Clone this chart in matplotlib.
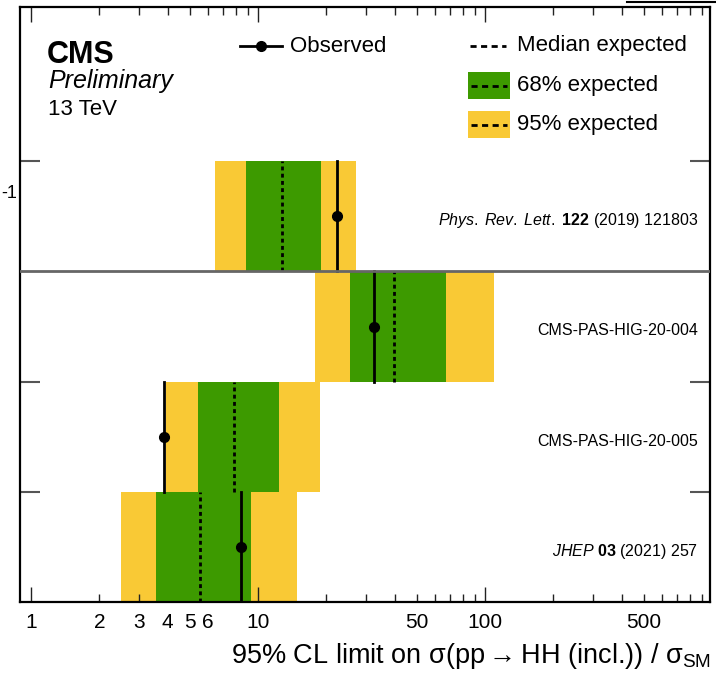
"""CMS HH combination: 95% CL upper limits on sigma(HH)/sigma_SM per analysis."""
import matplotlib
matplotlib.use('Agg')
import matplotlib.pyplot as plt
import matplotlib.patches as mpatches
from matplotlib.lines import Line2D
from matplotlib.ticker import FixedLocator, NullLocator

# ── data (top row first) ──
analyses = [r"$\mathit{Phys.\;Rev.\;Lett.}$ $\mathbf{122}$ (2019) 121803",
            "CMS-PAS-HIG-20-004",
            "CMS-PAS-HIG-20-005",
            r"$\mathit{JHEP}$ $\mathbf{03}$ (2021) 257"]
observed = [22.3, 32.4, 3.85, 8.4]
expected = [12.8, 39.7, 7.85, 5.55]
exp68_lo = [8.85, 25.4, 5.45, 3.55]
exp68_hi = [18.9, 67.3, 12.4, 9.3]
exp95_lo = [6.5, 17.8, 3.95, 2.5]
exp95_hi = [27.0, 110.0, 18.8, 14.9]

major_ticks = [1, 10, 100]
minor_ticks = [2, 3, 4, 5, 6, 7, 8, 9, 20, 30, 40, 50, 60, 70, 80, 90,
               200, 300, 400, 500, 600, 700, 800, 900]
minor_labels = {2: "2", 3: "3", 4: "4", 5: "5", 6: "6", 50: "50", 500: "500"}

C_YEL = "#F9C935"
C_GRN = "#3D9A00"

plt.rcParams.update({
    "font.family": ["Liberation Sans", "DejaVu Sans"],
    "mathtext.fontset": "custom",
    "mathtext.rm": "Liberation Sans",
    "mathtext.it": "Liberation Sans:italic",
    "mathtext.bf": "Liberation Sans:bold",
})

W, H = 716, 680
fig = plt.figure(figsize=(W / 100, H / 100), dpi=100)


def fx(px):
    return px / W


def fy(py):
    return 1 - py / H


ax = fig.add_axes([fx(20), fy(602), fx(710) - fx(20), fy(7) - fy(602)])
ax.set_xscale("log")
ax.set_xlim(0.895, 980)
ax.set_ylim(0, 5.4)

n = len(analyses)
for i, name in enumerate(analyses):
    y0 = n - 1 - i
    ax.barh(y0 + 0.5, exp95_hi[i] - exp95_lo[i], left=exp95_lo[i], height=1,
            color=C_YEL, edgecolor="none", zorder=1)
    ax.barh(y0 + 0.5, exp68_hi[i] - exp68_lo[i], left=exp68_lo[i], height=1,
            color=C_GRN, edgecolor="none", zorder=2)
    ax.plot([expected[i]] * 2, [y0, y0 + 1], color="black", lw=2,
            linestyle=(0, (1.4, 1.2)), zorder=3)
    ax.plot([observed[i]] * 2, [y0, y0 + 1], color="black", lw=2, zorder=4)
    ax.plot(observed[i], y0 + 0.5, "o", color="black", ms=7, zorder=5)
    ax.text(0.983, y0 + 0.46, name, transform=ax.get_yaxis_transform(),
            ha="right", va="center", fontsize=11.5)

# separator between published and new results
ax.axhline(3, color="#666666", lw=2, zorder=6)

# axes styling
for s in ax.spines.values():
    s.set_linewidth(1.6)
ax.xaxis.set_major_locator(FixedLocator(major_ticks))
ax.xaxis.set_minor_locator(FixedLocator(minor_ticks))
ax.set_xticks(major_ticks, labels=[str(v) for v in major_ticks])
ax.set_xticks(minor_ticks, labels=[minor_labels.get(v, "") for v in minor_ticks], minor=True)
ax.tick_params(axis="x", which="both", direction="in", top=True, labelsize=15,
               pad=8, width=1, color="#222222")
ax.tick_params(axis="x", which="major", length=11)
ax.tick_params(axis="x", which="minor", length=5.5)
ax.set_yticks([1, 2, 4])
ax.yaxis.set_minor_locator(NullLocator())
ax.tick_params(axis="y", direction="in", left=True, right=True, labelleft=False,
               length=14.5, width=1.5, color="#555555")

fig.text(fx(711), fy(663), "95% CL limit on σ(pp$\\rightarrow$HH (incl.)) / σ$_{\\mathrm{SM}}$",
         ha="right", va="baseline", fontsize=19.5)

# CMS label
fig.text(fx(47), fy(63), "CMS", fontsize=22, fontweight="bold", va="baseline")
fig.text(fx(48), fy(88), "Preliminary", fontsize=18, style="italic", va="baseline")
fig.text(fx(48), fy(115), "13 TeV", fontsize=16, va="baseline")

# legend drawn by hand
fig.add_artist(Line2D([fx(240), fx(282)], [fy(46)] * 2, color="black", lw=2))
fig.add_artist(Line2D([fx(261)], [fy(46)], marker="o", color="black", ms=7))
fig.text(fx(290), fy(46), "Observed", fontsize=16, va="center")

fig.add_artist(Line2D([fx(470), fx(506)], [fy(46)] * 2, color="black", lw=2,
                      linestyle=(0, (2.2, 1.6))))
fig.text(fx(517), fy(46), "Median expected", fontsize=16, va="center")

for (top, bot, col, lab) in [(72, 99, C_GRN, "68% expected"), (111, 138, C_YEL, "95% expected")]:
    fig.add_artist(mpatches.Rectangle((fx(468), fy(bot)), fx(510) - fx(468), fy(top) - fy(bot),
                                      transform=fig.transFigure, facecolor=col, edgecolor="none"))
    mid = (top + bot) / 2
    fig.add_artist(Line2D([fx(471), fx(507)], [fy(mid)] * 2, color="black", lw=2,
                          linestyle=(0, (2.2, 1.6))))
    fig.text(fx(517), fy(mid), lab, fontsize=16, va="center")

# fragments cropped from the original figure
fig.text(fx(1), fy(193), "-1", fontsize=13, va="center")
fig.add_artist(Line2D([fx(627), fx(716)], [fy(1.5)] * 2, color="black", lw=1.5))

fig.savefig("out.png", dpi=100)
